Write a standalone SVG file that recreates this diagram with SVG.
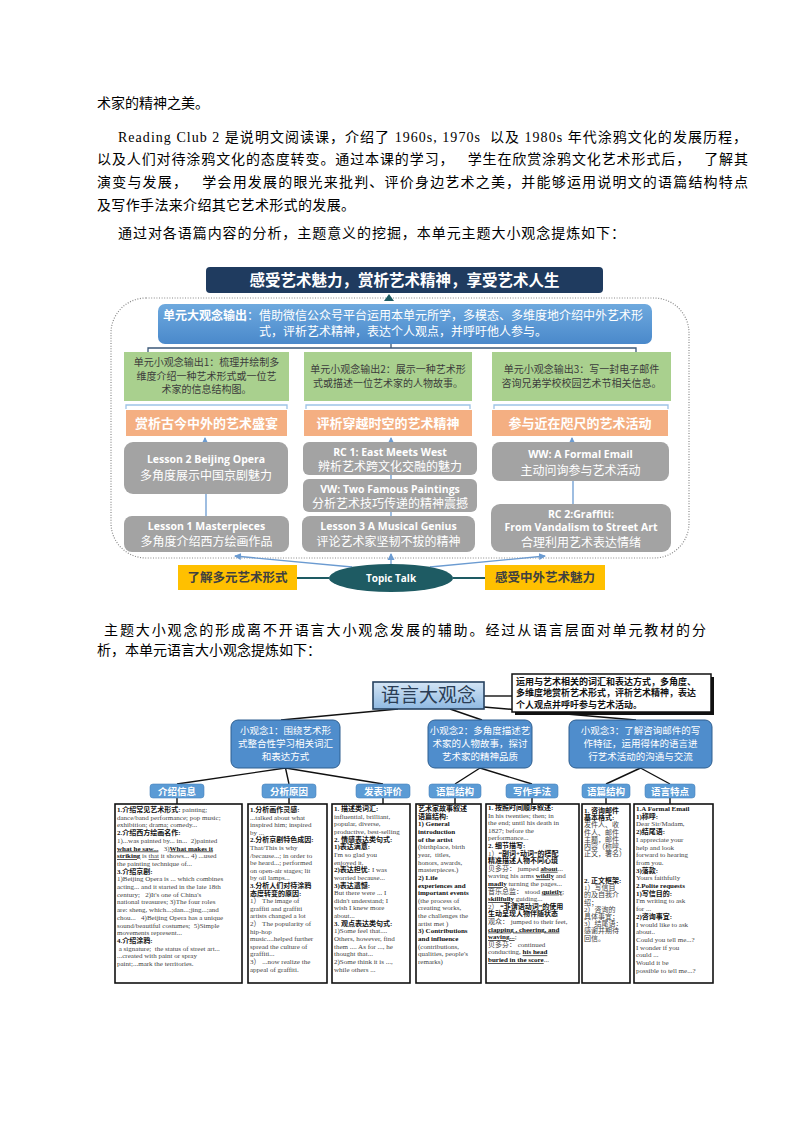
<svg xmlns="http://www.w3.org/2000/svg" width="794" height="1123" viewBox="0 0 794 1123">
<style>
.pt{font-family:"Liberation Serif","Noto Sans CJK SC",serif;font-size:14px;fill:#000;white-space:pre}
.cj{font-family:"Noto Sans CJK SC","Liberation Sans",sans-serif}
.en{font-family:"Open Sans","Noto Sans CJK SC",sans-serif;font-weight:bold}
.wt{fill:#fff}
.bd{font-weight:bold}
.gt{font-size:10px;fill:#3c3c3c}
.ot{font-size:13px;font-weight:bold;fill:#fff}
.ge{font-size:10.5px;fill:#fff}
.gc{font-size:12px;fill:#fff}
.tb{font-family:"Liberation Serif","Noto Sans CJK SC",serif;font-size:7px;fill:#444;white-space:pre}
.b{font-weight:bold;fill:#111}
.u{text-decoration:underline}
.box{fill:#fff;stroke:#111;stroke-width:1.6}
.lbl{fill:#5b9bd5;stroke:#4a84bd;stroke-width:0.6}
.lt{font-size:9.5px;font-weight:bold;fill:#fff}
.cb{fill:#4f8dcc;stroke:#2f5f90;stroke-width:1}
.ct{font-size:9.5px;fill:#fff}
.gray{fill:#a3a3a3}
.green{fill:#a9d08e}
.orange{fill:#f4af82}
.yel{fill:#ffc000}
.bl{stroke:#6b9bd1;stroke-width:1.3;fill:none}
.br{stroke:#9dc3e6;stroke-width:1.3;fill:none}
.k{stroke:#111;stroke-width:1.4;fill:none}
</style>
<defs>
<linearGradient id="gBlue" x1="0" y1="0" x2="0" y2="1"><stop offset="0" stop-color="#6ea9de"/><stop offset="1" stop-color="#4a89cb"/></linearGradient>
<linearGradient id="gBig" x1="0" y1="0" x2="0" y2="1"><stop offset="0" stop-color="#d4e5f5"/><stop offset="1" stop-color="#8fb9e2"/></linearGradient>
<marker id="ar" markerWidth="8" markerHeight="8" refX="6" refY="4" orient="auto" markerUnits="userSpaceOnUse"><path d="M0,0.5 L7,4 L0,7.5 Z" fill="#6b9bd1"/></marker>
</defs>
<rect width="794" height="1123" fill="#fff"/>

<g id="page-text">
<text class="pt" x="97" y="108">术家的精神之美。</text>
<text class="pt" x="118" y="142" textLength="629" lengthAdjust="spacing">Reading Club 2 是说明文阅读课，介绍了 1960s, 1970s  以及 1980s 年代涂鸦文化的发展历程，</text>
<text class="pt" x="97" y="164" textLength="651" lengthAdjust="spacing">以及人们对待涂鸦文化的态度转变。通过本课的学习，   学生在欣赏涂鸦文化艺术形式后，   了解其</text>
<text class="pt" x="97" y="187" textLength="651" lengthAdjust="spacing">演变与发展，   学会用发展的眼光来批判、评价身边艺术之美，并能够运用说明文的语篇结构特点</text>
<text class="pt" x="97" y="210" textLength="258" lengthAdjust="spacing">及写作手法来介绍其它艺术形式的发展。</text>
<text class="pt" x="118" y="238" textLength="507" lengthAdjust="spacing">通过对各语篇内容的分析，主题意义的挖掘，本单元主题大小观念提炼如下：</text>
<text class="pt" x="104" y="635" textLength="602" lengthAdjust="spacing">主题大小观念的形成离不开语言大小观念发展的辅助。经过从语言层面对单元教材的分</text>
<text class="pt" x="97" y="655">析，本单元语言大小观念提炼如下：</text>
</g>

<!-- Diagram 1 -->
<g id="d1-container"><rect x="111" y="298" width="578" height="260" rx="35" fill="none" stroke="#8a8a8a" stroke-width="1.2" stroke-dasharray="1 1.6"/></g>

<g id="d1-connectors">
<path d="M384,301 L394,301 L389,294 Z" fill="#1e5b63"/>
<path d="M391,344 V348 M148,352 V348 H636 V352" stroke="#3b5878" stroke-width="1.3" fill="none"/>
<path class="br" d="M126,409 V405 H287 V409 M306,409 V405 H470 V409 M494,409 V405 H668 V409"/>
<path class="bl" d="M205,442 V438" marker-end="url(#ar)"/>
<path class="bl" d="M391,442 V438" marker-end="url(#ar)"/>
<path class="bl" d="M572,442 V438" marker-end="url(#ar)"/>
<path class="bl" d="M206,494 V516 M391,475 V479 M391,512 V516 M573,481 V504"/>
<path class="bl" d="M391,564 V554" marker-end="url(#ar)"/>
<path class="bl" d="M352,567 L235,556" marker-end="url(#ar)"/>
<path class="bl" d="M430,567 L545,556" marker-end="url(#ar)"/>
<path d="M297,578 H329 M453,578 H485" stroke="#1e5b63" stroke-width="2.2"/>
</g>

<g id="d1-title">
<rect x="206" y="267" width="397" height="26" rx="4" fill="#1f3b5f"/>
<text class="cj bd wt" x="404.5" y="285.5" font-size="15.5" text-anchor="middle">感受艺术魅力，赏析艺术精神，享受艺术人生</text>
</g>

<g id="d1-big-output">
<rect x="158" y="304" width="494" height="40" rx="7" fill="url(#gBlue)"/>
<text class="cj wt" x="403" y="320" font-size="12" text-anchor="middle"><tspan font-weight="bold">单元大观念输出</tspan>：借助微信公众号平台运用本单元所学，多模态、多维度地介绍中外艺术形</text>
<text class="cj wt" x="403" y="336" font-size="12" text-anchor="middle">式，评析艺术精神，表达个人观点，并呼吁他人参与。</text>
</g>

<g id="d1-small1">
<rect class="green" x="124" y="352" width="165" height="49"/>
<text class="cj gt" x="206.5" y="366" text-anchor="middle">单元小观念输出1：梳理并绘制多</text>
<text class="cj gt" x="206.5" y="379.5" text-anchor="middle">维度介绍一种艺术形式或一位艺</text>
<text class="cj gt" x="206.5" y="393" text-anchor="middle">术家的信息结构图。</text>
</g>
<g id="d1-small2">
<rect class="green" x="304" y="352" width="168" height="49"/>
<text class="cj gt" x="388" y="372.5" text-anchor="middle">单元小观念输出2：展示一种艺术形</text>
<text class="cj gt" x="388" y="386.5" text-anchor="middle">式或描述一位艺术家的人物故事。</text>
</g>
<g id="d1-small3">
<rect class="green" x="492" y="352" width="179" height="49"/>
<text class="cj gt" x="581.5" y="372.5" text-anchor="middle">单元小观念输出3：写一封电子邮件</text>
<text class="cj gt" x="581.5" y="386.5" text-anchor="middle">咨询兄弟学校校园艺术节相关信息。</text>
</g>

<g id="d1-theme1"><rect class="orange" x="126" y="410" width="161" height="26"/><text class="cj ot" x="206.5" y="427.5" text-anchor="middle">赏析古今中外的艺术盛宴</text></g>
<g id="d1-theme2"><rect class="orange" x="304" y="410" width="168" height="26"/><text class="cj ot" x="388" y="427.5" text-anchor="middle">评析穿越时空的艺术精神</text></g>
<g id="d1-theme3"><rect class="orange" x="492" y="410" width="176" height="26"/><text class="cj ot" x="580" y="427.5" text-anchor="middle">参与近在咫尺的艺术活动</text></g>

<g id="d1-lesson2"><rect class="gray" x="124" y="442" width="164" height="52" rx="9"/><text class="en ge" x="206" y="463" text-anchor="middle">Lesson 2 Beijing Opera</text><text class="cj gc" x="206" y="480" text-anchor="middle">多角度展示中国京剧魅力</text></g>
<g id="d1-lesson1"><rect class="gray" x="124" y="516" width="165" height="36" rx="8"/><text class="en ge" x="206.5" y="530" text-anchor="middle">Lesson 1 Masterpieces</text><text class="cj gc" x="206.5" y="546" text-anchor="middle">多角度介绍西方绘画作品</text></g>
<g id="d1-rc1"><rect class="gray" x="303" y="442" width="174" height="33" rx="6"/><text class="en ge" x="390" y="455.5" text-anchor="middle">RC 1: East Meets West</text><text class="cj gc" x="390" y="470.5" text-anchor="middle">辨析艺术跨文化交融的魅力</text></g>
<g id="d1-vw"><rect class="gray" x="303" y="479" width="174" height="33" rx="6"/><text class="en ge" x="390" y="492.5" text-anchor="middle">VW: Two Famous Paintings</text><text class="cj gc" x="390" y="507.5" text-anchor="middle">分析艺术技巧传递的精神震撼</text></g>
<g id="d1-lesson3"><rect class="gray" x="302" y="516" width="173" height="36" rx="8"/><text class="en ge" x="388.5" y="530" text-anchor="middle">Lesson 3 A Musical Genius</text><text class="cj gc" x="388.5" y="546" text-anchor="middle">评论艺术家坚韧不拔的精神</text></g>
<g id="d1-ww"><rect class="gray" x="492" y="442" width="177" height="39" rx="8"/><text class="en ge" x="580.5" y="458" text-anchor="middle">WW: A Formal Email</text><text class="cj gc" x="580.5" y="474.5" text-anchor="middle">主动问询参与艺术活动</text></g>
<g id="d1-rc2"><rect class="gray" x="491" y="504" width="180" height="48" rx="9"/><text class="en ge" x="581" y="517.5" text-anchor="middle">RC 2:Graffiti:</text><text class="en ge" x="581" y="531" text-anchor="middle">From Vandalism to Street Art</text><text class="cj gc" x="581" y="547" text-anchor="middle">合理利用艺术表达情绪</text></g>

<g id="d1-topic"><ellipse cx="391" cy="578" rx="62" ry="14" fill="#1e5b63"/><text class="en wt" x="391" y="581.5" font-size="10" text-anchor="middle">Topic Talk</text></g>
<g id="d1-left"><rect class="yel" x="178" y="565" width="119" height="25"/><text class="cj bd" x="237.5" y="582" font-size="12.5" fill="#404040" text-anchor="middle">了解多元艺术形式</text></g>
<g id="d1-right"><rect class="yel" x="485" y="565" width="120" height="25"/><text class="cj bd" x="545" y="582" font-size="12.5" fill="#404040" text-anchor="middle">感受中外艺术魅力</text></g>

<!-- Diagram 2 -->
<g id="d2-connectors">
<path class="k" d="M484,696 H512"/>
<path class="k" d="M398,709 L281,720 M450,709 L482,720 M472,706 L636,720"/>
<path class="k" stroke-width="1.2" d="M285.5,768 L177,784 M285.5,768 L289,784 M285.5,768 L383,784 M480,768 L455,784 M480,768 L532,784 M640.5,768 L606,784 M640.5,768 L670,784"/>
<path class="k" stroke-width="1.2" d="M177,798 V804 M289,798 V804 M383,798 V804 M455,798 V804 M532,798 V804 M606,798 V804 M670,798 V804"/>
</g>

<g id="d2-big">
<rect x="373" y="682" width="111" height="27" fill="url(#gBig)" stroke="#26415f" stroke-width="1.6"/>
<text class="cj" x="428.5" y="702" font-size="19" fill="#2a3d55" text-anchor="middle">语言大观念</text>
</g>
<g id="d2-note">
<rect x="515" y="677" width="199" height="38" fill="#111"/>
<rect x="512" y="674" width="199" height="38" fill="#fff" stroke="#111" stroke-width="1.5"/>
<text class="cj bd" x="516" y="684.5" font-size="9" fill="#111">运用与艺术相关的词汇和表达方式，多角度、</text>
<text class="cj bd" x="516" y="696" font-size="9" fill="#111">多维度地赏析艺术形式，评析艺术精神，表达</text>
<text class="cj bd" x="516" y="707.5" font-size="9" fill="#111">个人观点并呼吁参与艺术活动。</text>
</g>

<g id="d2-c1"><rect class="cb" x="231" y="720" width="109" height="48" rx="7"/>
<text class="cj ct" x="285.5" y="734" text-anchor="middle">小观念1：围绕艺术形</text>
<text class="cj ct" x="285.5" y="747" text-anchor="middle">式整合性学习相关词汇</text>
<text class="cj ct" x="285.5" y="760" text-anchor="middle">和表达方式</text></g>
<g id="d2-c2"><rect class="cb" x="428" y="720" width="104" height="48" rx="7"/>
<text class="cj ct" x="480" y="734" text-anchor="middle">小观念2：多角度描述艺</text>
<text class="cj ct" x="480" y="747" text-anchor="middle">术家的人物故事，探讨</text>
<text class="cj ct" x="480" y="760" text-anchor="middle">艺术家的精神品质</text></g>
<g id="d2-c3"><rect class="cb" x="569" y="720" width="143" height="48" rx="7"/>
<text class="cj ct" x="640.5" y="734" text-anchor="middle">小观念3：了解咨询邮件的写</text>
<text class="cj ct" x="640.5" y="747" text-anchor="middle">作特征，运用得体的语言进</text>
<text class="cj ct" x="640.5" y="760" text-anchor="middle">行艺术活动的沟通与交流</text></g>

<g id="d2-l1"><rect class="lbl" x="150" y="784" width="54" height="14" rx="3"/><text class="cj lt" x="177" y="794.5" text-anchor="middle">介绍信息</text></g>
<g id="d2-l2"><rect class="lbl" x="262" y="784" width="54" height="14" rx="3"/><text class="cj lt" x="289" y="794.5" text-anchor="middle">分析原因</text></g>
<g id="d2-l3"><rect class="lbl" x="356" y="784" width="54" height="14" rx="3"/><text class="cj lt" x="383" y="794.5" text-anchor="middle">发表评价</text></g>
<g id="d2-l4"><rect class="lbl" x="429" y="784" width="52" height="14" rx="3"/><text class="cj lt" x="455" y="794.5" text-anchor="middle">语篇结构</text></g>
<g id="d2-l5"><rect class="lbl" x="506" y="784" width="52" height="14" rx="3"/><text class="cj lt" x="532" y="794.5" text-anchor="middle">写作手法</text></g>
<g id="d2-l6"><rect class="lbl" x="582" y="784" width="48" height="14" rx="3"/><text class="cj lt" x="606" y="794.5" text-anchor="middle">语篇结构</text></g>
<g id="d2-l7"><rect class="lbl" x="645" y="784" width="50" height="14" rx="3"/><text class="cj lt" x="670" y="794.5" text-anchor="middle">语言特点</text></g>

<g id="d2-boxA"><rect class="box" x="115" y="804" width="127" height="179"/>
<text class="tb" x="117" y="812"><tspan class="b">1.介绍常见艺术形式:</tspan> painting;</text>
<text class="tb" x="117" y="819.7">dance/band performance; pop music;</text>
<text class="tb" x="117" y="827.4">exhibition; drama; comedy...</text>
<text class="tb b" x="117" y="835.1">2.介绍西方绘画名作:</text>
<text class="tb" x="117" y="842.8">1)...was painted by... in...  2)painted</text>
<text class="tb" x="117" y="850.5"><tspan class="b u">what he saw...</tspan>   3)<tspan class="b u">What makes it</tspan></text>
<text class="tb" x="117" y="858.2"><tspan class="b u">striking</tspan> is <tspan class="u">that</tspan> it shows... 4) ...used</text>
<text class="tb" x="117" y="865.9">the painting technique of...</text>
<text class="tb b" x="117" y="873.6">3.介绍京剧:</text>
<text class="tb" x="117" y="881.3">1)Beijing Opera is ... which combines</text>
<text class="tb" x="117" y="889">acting... and it started in the late 18th</text>
<text class="tb" x="117" y="896.7">century;   2)It's one of China's</text>
<text class="tb" x="117" y="904.4">national treasures; 3)The four roles</text>
<text class="tb" x="117" y="912.1">are: sheng, which...;dan...;jing...;and</text>
<text class="tb" x="117" y="919.8">chou...   4)Beijing Opera has a unique</text>
<text class="tb" x="117" y="927.5">sound/beautiful costumes;  5)Simple</text>
<text class="tb" x="117" y="935.2">movements represent...</text>
<text class="tb b" x="117" y="942.9">4.介绍涂鸦:</text>
<text class="tb" x="117" y="950.6"> a signature;  the status of street art...</text>
<text class="tb" x="117" y="958.3">...created with paint or spray</text>
<text class="tb" x="117" y="966">paint;...mark the territories.</text>
</g>

<g id="d2-boxB"><rect class="box" x="248" y="804" width="79" height="179"/>
<text class="tb b" x="250" y="812">1.分析画作灵感:</text>
<text class="tb" x="250" y="819.6">...talked about what</text>
<text class="tb" x="250" y="827.2">inspired him; inspired</text>
<text class="tb" x="250" y="834.8">by ...</text>
<text class="tb b" x="250" y="842.4">2.分析京剧特色成因:</text>
<text class="tb" x="250" y="850">That/This is why</text>
<text class="tb" x="250" y="857.6">/because...; in order to</text>
<text class="tb" x="250" y="865.2">be heard...; performed</text>
<text class="tb" x="250" y="872.8">on open-air stages; lit</text>
<text class="tb" x="250" y="880.4">by oil lamps...</text>
<text class="tb b" x="250" y="888">3.分析人们对待涂鸦</text>
<text class="tb b" x="250" y="895.6">态度转变的原因:</text>
<text class="tb" x="250" y="903.2">1） The image of</text>
<text class="tb" x="250" y="910.8">graffiti and graffiti</text>
<text class="tb" x="250" y="918.4">artists changed a lot</text>
<text class="tb" x="250" y="926">2） The popularity of</text>
<text class="tb" x="250" y="933.6">hip-hop</text>
<text class="tb" x="250" y="941.2">music....helped further</text>
<text class="tb" x="250" y="948.8">spread the culture of</text>
<text class="tb" x="250" y="956.4">graffiti...</text>
<text class="tb" x="250" y="964">3） ...now realize the</text>
<text class="tb" x="250" y="971.6">appeal of graffiti.</text>
</g>

<g id="d2-boxC"><rect class="box" x="332" y="804" width="78" height="179"/>
<text class="tb b" x="334" y="811">1. 描述类词汇:</text>
<text class="tb" x="334" y="818.65">influential, brilliant,</text>
<text class="tb" x="334" y="826.3">popular, diverse,</text>
<text class="tb" x="334" y="833.95">productive, best-selling</text>
<text class="tb b" x="334" y="841.6">2. 情感表达类句式:</text>
<text class="tb b" x="334" y="849.25">1)表达满意:</text>
<text class="tb" x="334" y="856.9">I'm so glad you</text>
<text class="tb" x="334" y="864.55">enjoyed it.</text>
<text class="tb" x="334" y="872.2"><tspan class="b">2)表达担忧:</tspan> I was</text>
<text class="tb" x="334" y="879.85">worried because...</text>
<text class="tb b" x="334" y="887.5">3)表达遗憾:</text>
<text class="tb" x="334" y="895.15">But there were ... I</text>
<text class="tb" x="334" y="902.8">didn't understand; I</text>
<text class="tb" x="334" y="910.45">wish I knew more</text>
<text class="tb" x="334" y="918.1">about...</text>
<text class="tb b" x="334" y="925.75">3. 观点表达类句式:</text>
<text class="tb" x="334" y="933.4">1)Some feel that....</text>
<text class="tb" x="334" y="941.05">Others, however, find</text>
<text class="tb" x="334" y="948.7">them .... As for ..., he</text>
<text class="tb" x="334" y="956.35">thought that...</text>
<text class="tb" x="334" y="964">2)Some think it is ...,</text>
<text class="tb" x="334" y="971.65">while others ...</text>
</g>

<g id="d2-boxD"><rect class="box" x="416" y="804" width="65" height="179"/>
<text class="tb b" x="418" y="811">艺术家故事叙述</text>
<text class="tb b" x="418" y="818.65">语篇结构:</text>
<text class="tb b" x="418" y="826.3">1) General</text>
<text class="tb b" x="418" y="833.95">introduction</text>
<text class="tb b" x="418" y="841.6">of the artist</text>
<text class="tb" x="418" y="849.25">(birthplace, birth</text>
<text class="tb" x="418" y="856.9">year,  titles,</text>
<text class="tb" x="418" y="864.55">honors, awards,</text>
<text class="tb" x="418" y="872.2">masterpieces.)</text>
<text class="tb b" x="418" y="879.85">2) Life</text>
<text class="tb b" x="418" y="887.5">experiences and</text>
<text class="tb b" x="418" y="895.15">important events</text>
<text class="tb" x="418" y="902.8">(the process of</text>
<text class="tb" x="418" y="910.45">creating works,</text>
<text class="tb" x="418" y="918.1">the challenges the</text>
<text class="tb" x="418" y="925.75">artist met )</text>
<text class="tb b" x="418" y="933.4">3) Contributions</text>
<text class="tb b" x="418" y="941.05">and influence</text>
<text class="tb" x="418" y="948.7">(contributions,</text>
<text class="tb" x="418" y="956.35">qualities, people's</text>
<text class="tb" x="418" y="964">remarks)</text>
</g>

<g id="d2-boxE"><rect class="box" x="486" y="804" width="93" height="179"/>
<text class="tb b" x="488" y="810">1. 按照时间顺序叙述:</text>
<text class="tb" x="488" y="817.6">In his twenties; then; in</text>
<text class="tb" x="488" y="825.2">the end; until his death in</text>
<text class="tb" x="488" y="832.8">1827; before the</text>
<text class="tb" x="488" y="840.4">performance...</text>
<text class="tb b" x="488" y="848">2. 细节描写:</text>
<text class="tb" x="488" y="855.6">1）<tspan class="b">“副词+动词”的搭配</tspan></text>
<text class="tb b" x="488" y="863.2">精准描述人物不同心境</text>
<text class="tb" x="488" y="870.8">贝多芬： jumped <tspan class="b u">about</tspan>...</text>
<text class="tb" x="488" y="878.4">waving his arms <tspan class="b u">wildly</tspan> and</text>
<text class="tb" x="488" y="886"><tspan class="b u">madly</tspan> turning the pages...</text>
<text class="tb" x="488" y="893.6">音乐总监： stood <tspan class="b u">quietly</tspan>;</text>
<text class="tb" x="488" y="901.2"><tspan class="b u">skillfully</tspan> guiding...</text>
<text class="tb" x="488" y="908.8">2） <tspan class="b">“非谓语动词”的使用</tspan></text>
<text class="tb b" x="488" y="916.4">生动呈现人物伴随状态</text>
<text class="tb" x="488" y="924">观众： jumped to their feet,</text>
<text class="tb b u" x="488" y="931.6">clapping , cheering, and</text>
<text class="tb" x="488" y="939.2"><tspan class="b u">waving...</tspan>;</text>
<text class="tb" x="488" y="946.8">贝多芬： continued</text>
<text class="tb" x="488" y="954.4">conducting, <tspan class="b u">his head</tspan></text>
<text class="tb" x="488" y="962"><tspan class="b u">buried in the score</tspan>...</text>
</g>

<g id="d2-boxF"><rect class="box" x="582" y="804" width="48" height="179"/>
<text class="tb b" x="584" y="813">1. 咨询邮件</text>
<text class="tb b" x="584" y="820.2">基本格式:</text>
<text class="tb" x="584" y="827.4">发件人、收</text>
<text class="tb" x="584" y="834.6">件人、邮件</text>
<text class="tb" x="584" y="841.8">主题，邮件</text>
<text class="tb" x="584" y="849">内容（称呼、</text>
<text class="tb" x="584" y="856.2">正文，署名）</text>
<text class="tb b" x="584" y="883">2. 正文框架:</text>
<text class="tb" x="584" y="890.2">1）写信目</text>
<text class="tb" x="584" y="897.4">的及自我介</text>
<text class="tb" x="584" y="904.6">绍；</text>
<text class="tb" x="584" y="911.8">2）咨询的</text>
<text class="tb" x="584" y="919">具体事宜；</text>
<text class="tb" x="584" y="926.2">3）结尾语：</text>
<text class="tb" x="584" y="933.4">感谢并期待</text>
<text class="tb" x="584" y="940.6">回信。</text>
</g>

<g id="d2-boxG"><rect class="box" x="634" y="804" width="79" height="179"/>
<text class="tb b" x="636" y="811">1.A Formal Email</text>
<text class="tb b" x="636" y="818.7">1)称呼:</text>
<text class="tb" x="636" y="826.4">Dear Sir/Madam,</text>
<text class="tb b" x="636" y="834.1">2)结尾语:</text>
<text class="tb" x="636" y="841.8">I appreciate your</text>
<text class="tb" x="636" y="849.5">help and look</text>
<text class="tb" x="636" y="857.2">forward to hearing</text>
<text class="tb" x="636" y="864.9">from you.</text>
<text class="tb b" x="636" y="872.6">3)落款:</text>
<text class="tb" x="636" y="880.3">Yours faithfully</text>
<text class="tb b" x="636" y="888">2.Polite requests</text>
<text class="tb b" x="636" y="895.7">1)写信目的:</text>
<text class="tb" x="636" y="903.4">I'm writing to ask</text>
<text class="tb" x="636" y="911.1">for ...</text>
<text class="tb b" x="636" y="918.8">2)咨询事宜:</text>
<text class="tb" x="636" y="926.5">I would like to ask</text>
<text class="tb" x="636" y="934.2">about..</text>
<text class="tb" x="636" y="941.9">Could you tell me...?</text>
<text class="tb" x="636" y="949.6">I wonder if you</text>
<text class="tb" x="636" y="957.3">could ...</text>
<text class="tb" x="636" y="965">Would it be</text>
<text class="tb" x="636" y="972.7">possible to tell me...?</text>
</g>
</svg>
